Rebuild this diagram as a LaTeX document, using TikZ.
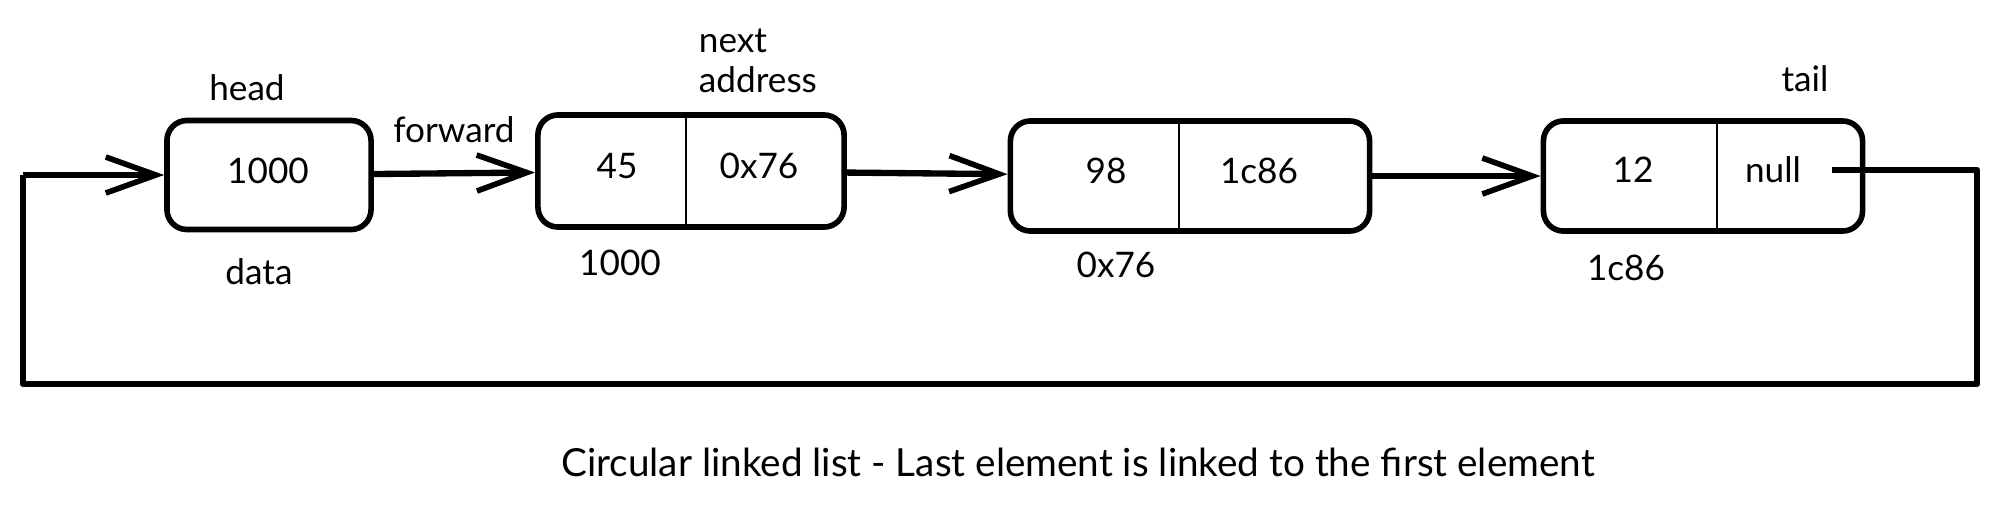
\documentclass[tikz,border=0pt]{standalone}
\usepackage{fontspec}
\setmainfont{Lato}
\usetikzlibrary{arrows.meta,calc}

\begin{document}
\begin{tikzpicture}
	[x=0.01cm,y=-0.01cm,line width=1.4pt,
	every node/.style={inner sep=1pt,font=\fontsize{10}{12}\selectfont},
	cell/.style={draw,rounded corners=0.2cm,line width=1.6pt},
	link/.style={line width=1.8pt,line join=round},
	tip/.style={-{Straight Barb[length=5mm,width=3.6mm,line width=1.6pt]}}]
	\useasboundingbox (0,0) rectangle (2000,505);
	% boxes
	\node[cell,minimum width=2.04cm,minimum height=1.09cm] (h) at (269,175) {};
	\node[cell,minimum width=3.06cm,minimum height=1.12cm] (n1) at (691,171) {};
	\node[cell,minimum width=3.59cm,minimum height=1.10cm] (n2) at (1190,176) {};
	\node[cell,minimum width=3.19cm,minimum height=1.10cm] (n3) at (1703,176) {};
	% dividers
	\draw[line width=0.6pt] (686,0 |- n1.north) -- (686,0 |- n1.south);
	\draw[line width=0.6pt] (1179,0 |- n2.north) -- (1179,0 |- n2.south);
	\draw[line width=0.6pt] (1717,0 |- n3.north) -- (1717,0 |- n3.south);
	% contents
	\node (dh) at (268,171) {1000};
	\node (d1) at (617,166) {45};
	\node (a1) at (759,166) {0x76};
	\node (d2) at (1106,171) {98};
	\node (a2) at (1259,171) {1c86};
	\node (d3) at (1633,170) {12};
	\node (a3) at (1773,170) {null};
	% labels
	\node (lhead) at (247,88) {head};
	\node (ldata) at (259,272) {data};
	\node (lfwd) at (454,130) {forward};
	\node[anchor=west] (lnext) at (693,41) {next};
	\node[anchor=west] (laddr) at (693,80) {address};
	\node (ln1) at (620,263) {1000};
	\node (ln2) at (1116,265) {0x76};
	\node (ln3) at (1626,268) {1c86};
	\node (ltail) at (1805,79) {tail};
	\node[font=\fontsize{11}{13}\selectfont] (lcap) at (1078,462)
		{Circular linked list - Last element is linked to the first element};
	% loop back
	\coordinate (tr) at (1977,170);
	\coordinate (br) at (1977,384);
	\coordinate (bl) at (23,384);
	\coordinate (tl) at (23,175);
	\draw[link,shorten <=0.25cm] (a3.east) -- (tr) -- (br) -- (bl) -- (tl);
	\draw[link,tip] (tl) -- (h.west);
	\path
	\foreach \startNode/\endNode in {h/n1,n1/n2,n2/n3}
	{
		(\startNode) edge[link,tip] (\endNode)
	};
\end{tikzpicture}
\end{document}
